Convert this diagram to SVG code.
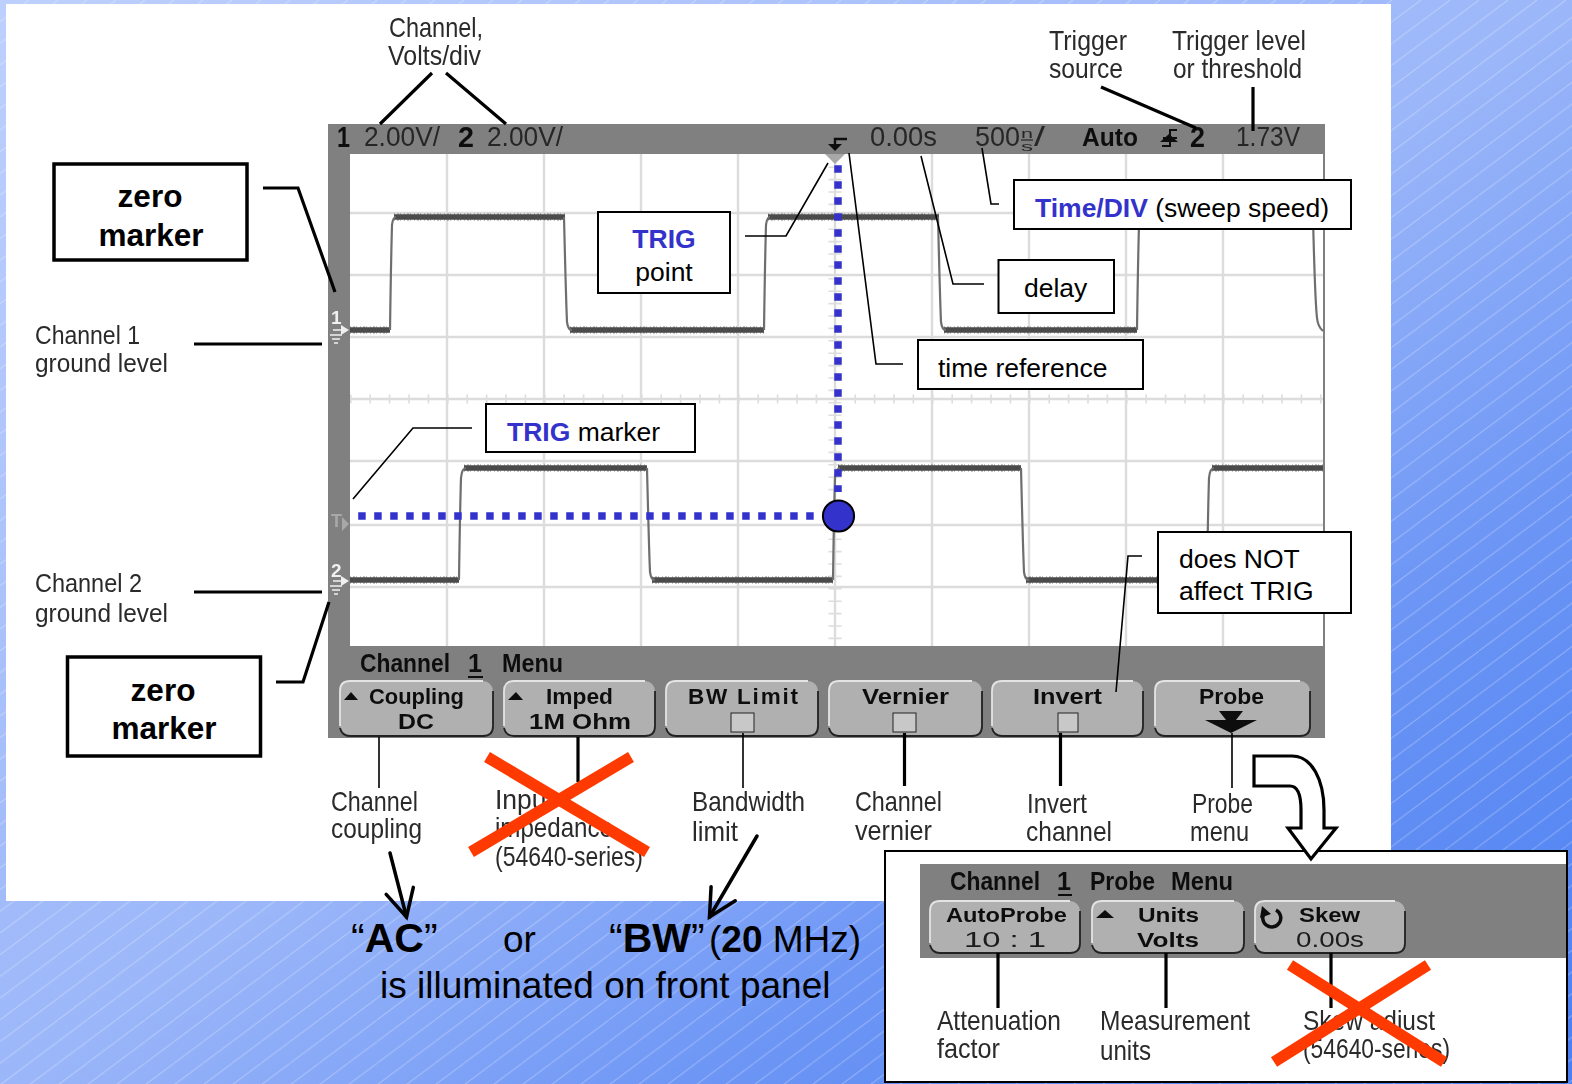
<svg xmlns="http://www.w3.org/2000/svg" width="1572" height="1084" viewBox="0 0 1572 1084">
<style>
text{font-family:"Liberation Sans",Arial,sans-serif}
.box{fill:#fff;stroke:#000;stroke-width:2}
.zbox{fill:#fff;stroke:#000;stroke-width:3.5}
.bt{font-size:26.5px;fill:#000}
.blue{font-weight:bold;fill:#3333cc}
.zt{font-size:31.5px;font-weight:bold;fill:#000;text-anchor:middle}
.lab{font-size:28px;fill:#2a2a2a}
.hd{font-size:27px;fill:#262626}
.hb{font-size:29px;font-weight:bold;fill:#111}
.mn{font-size:25px;font-weight:bold;fill:#111}
.k{font-size:22.5px;font-weight:bold;fill:#111}
.k2{font-size:22px;fill:#1c1c1c}
.big{font-size:37px;fill:#000}
.bigq{font-size:41px;fill:#000}
.bigb{font-size:41px;font-weight:bold;fill:#000}
.th{fill:none;stroke:#000;stroke-width:1.6}
.tk{fill:none;stroke:#000;stroke-width:3.2}
.grid{stroke:#dcdcdc;stroke-width:2.4;fill:none}
.wh{stroke:#4a4a4a;stroke-width:5.5;fill:none}
.wn{stroke:#555;stroke-width:7.500;fill:none;stroke-dasharray:1 2 2 1 1 3;stroke-opacity:.45}
.wv{stroke:#6e6e6e;stroke-width:2.2;fill:none}
.dots{stroke:#3333cc;stroke-width:7.5;fill:none}
.x{stroke:#ff3a00;stroke-width:11.500;fill:none}
.bf{fill:#b0b0b0}
.hi{fill:none;stroke:#e4e4e4;stroke-width:1.8}
.lo{fill:none;stroke:#222;stroke-width:1.8}
.chk{fill:#c8c8c8;stroke:#222;stroke-width:1}
.mk{fill:#f0f0f0;stroke:none}
.ml{fill:none;stroke:#f0f0f0;stroke-width:1.5}
.arrowline{fill:none;stroke:#000;stroke-width:3.5;stroke-linecap:round;marker-end:url(#vee)}
</style>
<defs>
<linearGradient id="bg" x1="0" y1="0" x2="1" y2="1">
<stop offset="0" stop-color="#bdd0fd"/><stop offset="0.5" stop-color="#9cb7f9"/><stop offset="0.72" stop-color="#6d96f5"/><stop offset="1" stop-color="#4a7ff2"/>
</linearGradient>
<pattern id="hatch" patternUnits="userSpaceOnUse" width="29" height="21.7">
<path d="M-1,22.45 L30,-0.75" stroke="#fff" stroke-opacity="0.28" stroke-width="1" fill="none"/>
</pattern>
<filter id="soft" filterUnits="userSpaceOnUse" x="0" y="0" width="1572" height="1084"><feGaussianBlur stdDeviation="0.6"/></filter>
<marker id="vee" markerUnits="userSpaceOnUse" markerWidth="40" markerHeight="40" refX="30" refY="20" orient="auto" viewBox="0 0 40 40">
<path d="M3,6 L30,20 L3,34" fill="none" stroke="#000" stroke-width="3.5" stroke-linecap="round"/>
</marker>
</defs>

<rect id="background" width="1572" height="1084" fill="url(#bg)"/>
<rect width="1572" height="1084" fill="url(#hatch)"/>
<rect id="sheet" x="6" y="4" width="1385" height="897" fill="#fff"/>

<g id="scope" filter="url(#soft)">
<rect x="328" y="124" width="997" height="614" fill="#808080"/>
<rect x="350" y="154" width="973" height="492" fill="#fff"/>
<path class="grid" d="M447,154V646M544,154V646M641,154V646M738,154V646M835,154V646M932,154V646M1029,154V646M1126,154V646M1223,154V646M350,213H1323M350,275H1323M350,337H1323M350,399H1323M350,461H1323M350,525H1323M350,587H1323"/>
<path d="M350,399H1323" stroke="#ddd" stroke-width="9" stroke-dasharray="1.6 17.8" fill="none"/>
<path d="M835,154V646" stroke="#ddd" stroke-width="13" stroke-dasharray="1.6 10.8" fill="none"/>
<g id="ch1-trace">
<path class="wh" d="M350,330H390M394,217H565M570,330H764M768,217H939M944,330H1137M1141,217H1313"/>
<path class="wn" d="M350,330H390M394,217H565M570,330H764M768,217H939M944,330H1137M1141,217H1313"/>
<path class="wv" d="M390,330Q391,260 392,225Q393,217 396,217M564,217Q566,300 567,322Q568,330 572,330M764,330Q765,260 766,225Q767,217 770,217M938,217Q940,300 941,322Q942,330 946,330M1137,330Q1138,260 1139,225Q1140,217 1143,217M1313,217Q1315,300 1317,318Q1318,327 1323,331"/>
</g>
<g id="ch2-trace">
<path class="wh" d="M350,580H459M464,468H647M652,580H833M838,468H1021M1026,580H1207M1212,468H1323"/>
<path class="wn" d="M350,580H459M464,468H647M652,580H833M838,468H1021M1026,580H1207M1212,468H1323"/>
<path class="wv" d="M459,580Q460,510 461,478Q462,468 466,468M647,468Q649,550 650,572Q651,580 655,580M833,580Q834,510 835,478Q836,468 840,468M1021,468Q1023,550 1024,572Q1025,580 1029,580M1207,580Q1208,510 1209,478Q1210,468 1214,468"/>
</g>

<text class="hb" x="337" y="147" textLength="13" lengthAdjust="spacingAndGlyphs">1</text>
<text class="hd" x="364" y="146" textLength="76" lengthAdjust="spacingAndGlyphs">2.00V/</text>
<text class="hb" x="458" y="147" textLength="16" lengthAdjust="spacingAndGlyphs">2</text>
<text class="hd" x="487" y="146" textLength="76" lengthAdjust="spacingAndGlyphs">2.00V/</text>
<text class="hd" x="870" y="146" textLength="67" lengthAdjust="spacingAndGlyphs">0.00s</text>
<text class="hd" x="975" y="146" textLength="45" lengthAdjust="spacingAndGlyphs">500</text>
<text x="1021" y="138" font-size="13" fill="#262626" textLength="12" lengthAdjust="spacingAndGlyphs">n</text>
<path d="M1021,140H1033" stroke="#262626" stroke-width="1.2"/>
<text x="1021" y="151" font-size="13" fill="#262626" textLength="12" lengthAdjust="spacingAndGlyphs">s</text>
<text class="hd" x="1034" y="146" textLength="11" lengthAdjust="spacingAndGlyphs">/</text>
<text class="mn" x="1082" y="146" textLength="56" lengthAdjust="spacingAndGlyphs">Auto</text>
<path d="M1177,130H1170V146H1162M1163,138H1177" fill="none" stroke="#111" stroke-width="2"/>
<path d="M1160,142L1169,134L1178,142Z" fill="#111"/>
<text class="hb" x="1190" y="147" textLength="15" lengthAdjust="spacingAndGlyphs">2</text>
<text class="hd" x="1236" y="146" textLength="64" lengthAdjust="spacingAndGlyphs">1.73V</text>
<path d="M847,139H835V149" fill="none" stroke="#111" stroke-width="2.4"/>
<path d="M828,144H842L835,151Z" fill="#111"/>
<path d="M825,154H845L835,164Z" fill="#a8a8a8"/>

<g id="ground-markers">
<text x="331" y="324" font-size="19" font-weight="bold" fill="#f0f0f0">1</text>
<path class="ml" d="M333,330H342M330,335H342M332,339H340M334,343H338"/>
<path class="mk" d="M341,325L349,330L341,335Z"/>
<text x="331" y="577" font-size="19" font-weight="bold" fill="#f0f0f0">2</text>
<path class="ml" d="M333,581H342M330,586H342M332,590H340M334,594H338"/>
<path class="mk" d="M341,576L349,581L341,586Z"/>
<text x="331" y="527" font-size="18" fill="#a8a8a8" font-weight="bold">T</text>
<path fill="#a8a8a8" d="M342,517L349,524L342,531Z"/>
</g>

<text class="mn" x="360" y="672" textLength="90" lengthAdjust="spacingAndGlyphs">Channel</text>
<text class="mn" x="468" y="672" textLength="14" lengthAdjust="spacingAndGlyphs">1</text>
<path d="M468,677H483" stroke="#111" stroke-width="2"/>
<text class="mn" x="502" y="672" textLength="61" lengthAdjust="spacingAndGlyphs">Menu</text>

<g id="softkey-coupling">
<rect class="bf" x="340" y="681" width="153" height="55" rx="10"/>
<path class="hi" d="M340,726V691Q340,681 350,681H483"/><path class="lo" d="M493,691V726Q493,736 483,736H350Q342,736 340,728"/>
<path d="M344,700H358L351,692Z" fill="#111"/>
<text class="k" x="369" y="704" textLength="95" lengthAdjust="spacingAndGlyphs">Coupling</text>
<text class="k" x="398" y="729" textLength="36" lengthAdjust="spacingAndGlyphs">DC</text>
</g>
<g id="softkey-imped">
<rect class="bf" x="504" y="681" width="151" height="55" rx="10"/>
<path class="hi" d="M504,726V691Q504,681 514,681H645"/><path class="lo" d="M655,691V726Q655,736 645,736H514Q506,736 504,728"/>
<path d="M508,700H523L516,692Z" fill="#111"/>
<text class="k" x="546" y="704" textLength="67" lengthAdjust="spacingAndGlyphs">Imped</text>
<text class="k" x="529" y="729" textLength="102" lengthAdjust="spacingAndGlyphs">1M Ohm</text>
</g>
<g id="softkey-bw">
<rect class="bf" x="666" y="681" width="152" height="55" rx="10"/>
<path class="hi" d="M666,726V691Q666,681 676,681H808"/><path class="lo" d="M818,691V726Q818,736 808,736H676Q668,736 666,728"/>
<text class="k" x="688" y="704" textLength="110" lengthAdjust="spacing">BW Limit</text>
<rect class="chk" x="731" y="713" width="23" height="19"/>
</g>
<g id="softkey-vernier">
<rect class="bf" x="829" y="681" width="153" height="55" rx="10"/>
<path class="hi" d="M829,726V691Q829,681 839,681H972"/><path class="lo" d="M982,691V726Q982,736 972,736H839Q831,736 829,728"/>
<text class="k" x="862" y="704" textLength="87" lengthAdjust="spacingAndGlyphs">Vernier</text>
<rect class="chk" x="893" y="713" width="23" height="19"/>
</g>
<g id="softkey-invert">
<rect class="bf" x="992" y="681" width="151" height="55" rx="10"/>
<path class="hi" d="M992,726V691Q992,681 1002,681H1133"/><path class="lo" d="M1143,691V726Q1143,736 1133,736H1002Q994,736 992,728"/>
<text class="k" x="1033" y="704" textLength="69" lengthAdjust="spacingAndGlyphs">Invert</text>
<rect class="chk" x="1058" y="713" width="20" height="19"/>
</g>
<g id="softkey-probe">
<rect class="bf" x="1155" y="681" width="155" height="55" rx="10"/>
<path class="hi" d="M1155,726V691Q1155,681 1165,681H1300"/><path class="lo" d="M1310,691V726Q1310,736 1300,736H1165Q1157,736 1155,728"/>
<text class="k" x="1199" y="704" textLength="65" lengthAdjust="spacingAndGlyphs">Probe</text>
<path d="M1219,711H1243L1236,720H1257L1231,733L1205,720H1226Z" fill="#111"/>
</g>
</g>

<g id="dotted-lines">
<path class="dots" d="M838,165.2V492" stroke-dasharray="7.5 8.5"/>
<path class="dots" d="M358.2,516H815" stroke-dasharray="7.5 8.5"/>
<circle cx="838.5" cy="516" r="15.6" fill="#3333cc" stroke="#000" stroke-width="2"/>
</g>

<g id="scope-labels" filter="url(#soft)">
<g id="label-volts"><text class="lab" x="389" y="37" textLength="94" lengthAdjust="spacingAndGlyphs">Channel,</text><text class="lab" x="388" y="65" textLength="93" lengthAdjust="spacingAndGlyphs">Volts/div</text></g>
<g id="label-trigger-source"><text class="lab" x="1049" y="50" textLength="78" lengthAdjust="spacingAndGlyphs">Trigger</text><text class="lab" x="1049" y="78" textLength="74" lengthAdjust="spacingAndGlyphs">source</text></g>
<g id="label-trigger-level"><text class="lab" x="1172" y="50" textLength="134" lengthAdjust="spacingAndGlyphs">Trigger level</text><text class="lab" x="1173" y="78" textLength="129" lengthAdjust="spacingAndGlyphs">or threshold</text></g>
<g id="label-ch1-ground"><text class="lab" style="font-size:25px" x="35" y="344" textLength="105" lengthAdjust="spacingAndGlyphs">Channel 1</text><text class="lab" style="font-size:25px" x="35" y="372" textLength="133" lengthAdjust="spacingAndGlyphs">ground level</text></g>
<g id="label-ch2-ground"><text class="lab" style="font-size:25px" x="35" y="592" textLength="107" lengthAdjust="spacingAndGlyphs">Channel 2</text><text class="lab" style="font-size:25px" x="35" y="622" textLength="133" lengthAdjust="spacingAndGlyphs">ground level</text></g>
<g id="label-coupling"><text class="lab" x="331" y="811" textLength="87" lengthAdjust="spacingAndGlyphs">Channel</text><text class="lab" x="331" y="838" textLength="91" lengthAdjust="spacingAndGlyphs">coupling</text></g>
<g id="label-imped"><text class="lab" x="495" y="809" textLength="59" lengthAdjust="spacingAndGlyphs">Input</text><text class="lab" x="495" y="837" textLength="118" lengthAdjust="spacingAndGlyphs">impedance</text><text class="lab" x="495" y="866" textLength="148" lengthAdjust="spacingAndGlyphs">(54640-series)</text></g>
<g id="label-bandwidth"><text class="lab" x="692" y="811" textLength="113" lengthAdjust="spacingAndGlyphs">Bandwidth</text><text class="lab" x="692" y="841" textLength="46" lengthAdjust="spacingAndGlyphs">limit</text></g>
<g id="label-vernier"><text class="lab" x="855" y="811" textLength="87" lengthAdjust="spacingAndGlyphs">Channel</text><text class="lab" x="855" y="840" textLength="77" lengthAdjust="spacingAndGlyphs">vernier</text></g>
<g id="label-invert"><text class="lab" x="1027" y="813" textLength="60" lengthAdjust="spacingAndGlyphs">Invert</text><text class="lab" x="1026" y="841" textLength="86" lengthAdjust="spacingAndGlyphs">channel</text></g>
<g id="label-probe"><text class="lab" x="1192" y="813" textLength="61" lengthAdjust="spacingAndGlyphs">Probe</text><text class="lab" x="1190" y="841" textLength="59" lengthAdjust="spacingAndGlyphs">menu</text></g>
</g>

<g id="connectors">
<path class="tk" d="M432,73L380,124M446,73L506,124"/>
<path class="tk" d="M1101,87L1196,128M1253,87V131"/>
<path class="tk" d="M263,188H298L335,292"/>
<path class="tk" d="M194,344H322M194,592H322"/>
<path class="tk" d="M276,682H303L329,602"/>
<path class="th" d="M982,148L991,204H999"/>
<path class="th" d="M921,156L953,284H984"/>
<path class="th" d="M849,153L876,364H903"/>
<path class="th" d="M745,236H786L828,163"/>
<path class="th" d="M472,428H413L353,499"/>
<path class="th" d="M1142,556H1128L1116,692"/>
<path class="th" d="M379,737V788M743,733V788M1232,733V788"/>
<path class="tk" d="M578,737V782M904.5,733V786M1060.5,733V786"/>
<path class="arrowline" d="M390,853L406.5,917"/>
<path class="arrowline" d="M757,836L709.5,917"/>
</g>

<g id="box-zero-1"><rect class="zbox" x="54" y="164" width="193" height="96"/><text class="zt" x="150" y="207">zero</text><text class="zt" x="151" y="246">marker</text></g>
<g id="box-zero-2"><rect class="zbox" x="67.500" y="657" width="193" height="99"/><text class="zt" x="163" y="701">zero</text><text class="zt" x="164" y="739">marker</text></g>
<g id="box-trig-point"><rect class="box" x="598" y="212" width="132" height="81"/><text class="bt blue" x="664" y="248" text-anchor="middle">TRIG</text><text class="bt" x="664" y="281" text-anchor="middle">point</text></g>
<g id="box-time-div"><rect class="box" x="1014" y="180" width="337" height="49"/><text class="bt" x="1035" y="217"><tspan class="blue">Time/DIV</tspan> (sweep speed)</text></g>
<g id="box-delay"><rect class="box" x="998.500" y="260" width="115.500" height="53"/><text class="bt" x="1024" y="297">delay</text></g>
<g id="box-time-ref"><rect class="box" x="918" y="340" width="225" height="49"/><text class="bt" x="938" y="377">time reference</text></g>
<g id="box-trig-marker"><rect class="box" x="486" y="404" width="209" height="48"/><text class="bt" x="507" y="441"><tspan class="blue">TRIG</tspan> marker</text></g>
<g id="box-not-affect"><rect class="box" x="1158" y="532" width="193" height="81"/><text class="bt" x="1179" y="568">does NOT</text><text class="bt" x="1179" y="600">affect TRIG</text></g>

<path id="x-imped" class="x" d="M487,757L647,852M631,757L471,852"/>

<g id="caption">
<text x="351" y="952"><tspan class="bigq">“</tspan><tspan class="bigb">AC</tspan><tspan class="bigq">”</tspan></text>
<text class="big" x="503" y="952">or</text>
<text x="609" y="952"><tspan class="bigq">“</tspan><tspan class="bigb">BW</tspan><tspan class="bigq">”</tspan></text>
<text class="big" x="709" y="952">(<tspan font-weight="bold">20</tspan> MHz)</text>
<text class="big" x="380" y="998">is illuminated on front panel</text>
</g>

<g id="probe-inset">
<rect x="885" y="851" width="682" height="231" fill="#fff" stroke="#000" stroke-width="2"/>
<g filter="url(#soft)">
<rect x="920" y="864" width="646" height="94" fill="#808080"/>
<text class="mn" x="950" y="890" textLength="90" lengthAdjust="spacingAndGlyphs">Channel</text>
<text class="mn" x="1057" y="890" textLength="14" lengthAdjust="spacingAndGlyphs">1</text>
<path d="M1058,895H1072" stroke="#111" stroke-width="2"/>
<text class="mn" x="1090" y="890" textLength="65" lengthAdjust="spacingAndGlyphs">Probe</text>
<text class="mn" x="1171" y="890" textLength="62" lengthAdjust="spacingAndGlyphs">Menu</text>
<g id="softkey-autoprobe">
<rect class="bf" x="930" y="901" width="150" height="52" rx="10"/>
<path class="hi" d="M930,943V911Q930,901 940,901H1070"/><path class="lo" d="M1080,911V943Q1080,953 1070,953H940Q932,953 930,945"/>
<text class="k" style="font-size:21px" x="946" y="922" textLength="121" lengthAdjust="spacingAndGlyphs">AutoProbe</text>
<text class="k2" x="964" y="947" textLength="82" lengthAdjust="spacingAndGlyphs">10 : 1</text>
</g>
<g id="softkey-units">
<rect class="bf" x="1092" y="901" width="152" height="52" rx="10"/>
<path class="hi" d="M1092,943V911Q1092,901 1102,901H1234"/><path class="lo" d="M1244,911V943Q1244,953 1234,953H1102Q1094,953 1092,945"/>
<path d="M1096,918H1114L1105,910Z" fill="#111"/>
<text class="k" style="font-size:21px" x="1138" y="922" textLength="61" lengthAdjust="spacingAndGlyphs">Units</text>
<text class="k" style="font-size:21px" x="1137" y="947" textLength="62" lengthAdjust="spacingAndGlyphs">Volts</text>
</g>
<g id="softkey-skew">
<rect class="bf" x="1255" y="901" width="150" height="52" rx="10"/>
<path class="hi" d="M1255,943V911Q1255,901 1265,901H1395"/><path class="lo" d="M1405,911V943Q1405,953 1395,953H1265Q1257,953 1255,945"/>
<path d="M1265,912A9,9 0 1 0 1276,910" fill="none" stroke="#111" stroke-width="3.5"/>
<path d="M1262,906L1271,914L1260,918Z" fill="#111"/>
<text class="k" style="font-size:21px" x="1299" y="922" textLength="61" lengthAdjust="spacingAndGlyphs">Skew</text>
<text class="k2" x="1296" y="947" textLength="68" lengthAdjust="spacingAndGlyphs">0.00s</text>
</g>
<g id="label-attenuation"><text class="lab" x="937" y="1030" textLength="124" lengthAdjust="spacingAndGlyphs">Attenuation</text><text class="lab" x="937" y="1058" textLength="63" lengthAdjust="spacingAndGlyphs">factor</text></g>
<g id="label-measurement"><text class="lab" x="1100" y="1030" textLength="150" lengthAdjust="spacingAndGlyphs">Measurement</text><text class="lab" x="1100" y="1060" textLength="51" lengthAdjust="spacingAndGlyphs">units</text></g>
<g id="label-skew"><text class="lab" x="1303" y="1030" textLength="132" lengthAdjust="spacingAndGlyphs">Skew adjust</text><text class="lab" x="1303" y="1058" textLength="147" lengthAdjust="spacingAndGlyphs">(54640-series)</text></g>
</g>
<path class="tk" d="M998,953V1008M1166,953V1008M1331,953V1008"/>
<path id="x-skew" class="x" d="M1290,965L1444,1062M1428,965L1274,1062"/>
</g>

<path id="probe-arrow" d="M1254,756H1292C1312,756 1324,780 1324,810V828H1336L1311,859L1288,828H1301V810C1301,795 1298,786 1290,786H1254Z" fill="#fff" stroke="#000" stroke-width="3.2"/>
</svg>
